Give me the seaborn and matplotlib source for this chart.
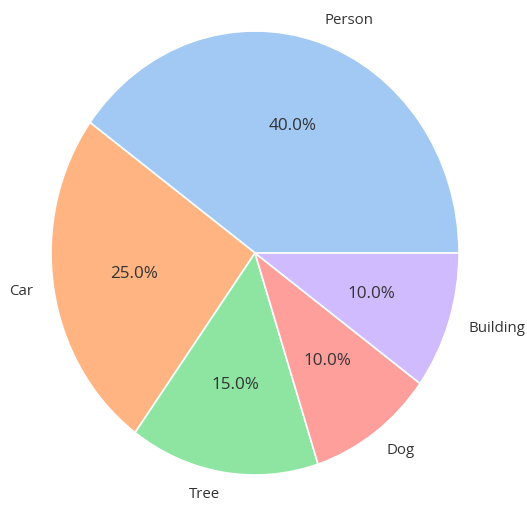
import matplotlib
matplotlib.use("Agg")
import matplotlib.pyplot as plt
import seaborn as sns

labels = ["Person", "Car", "Tree", "Dog", "Building"]
sizes = [40, 25, 15, 10, 10]

sns.set_theme(style="white")
plt.rcParams['font.family'] = ['Open Sans', 'DejaVu Sans']

colors = sns.color_palette("pastel", len(labels))

fig = plt.figure(figsize=(5.27, 5.05), dpi=100)
W, H = 527, 505
cx, cy = 255, 505 - 253
rx, ry = 204, 222
hx, hy = rx * 1.25, ry * 1.25
ax = fig.add_axes([(cx - hx) / W, (cy - hy) / H, 2 * hx / W, 2 * hy / H])
wedges, texts, autotexts = ax.pie(
    sizes, labels=labels, colors=colors, autopct="%1.1f%%", startangle=0,
    wedgeprops=dict(edgecolor="white", linewidth=1.2),
    textprops=dict(fontsize=10.8, color="#333333"))
for t in autotexts:
    t.set_fontsize(12.3)
ax.set_aspect("auto")
ax.set_xlim(-1.25, 1.25)
ax.set_ylim(-1.25, 1.25)
fig.savefig("out.png", dpi=100)
